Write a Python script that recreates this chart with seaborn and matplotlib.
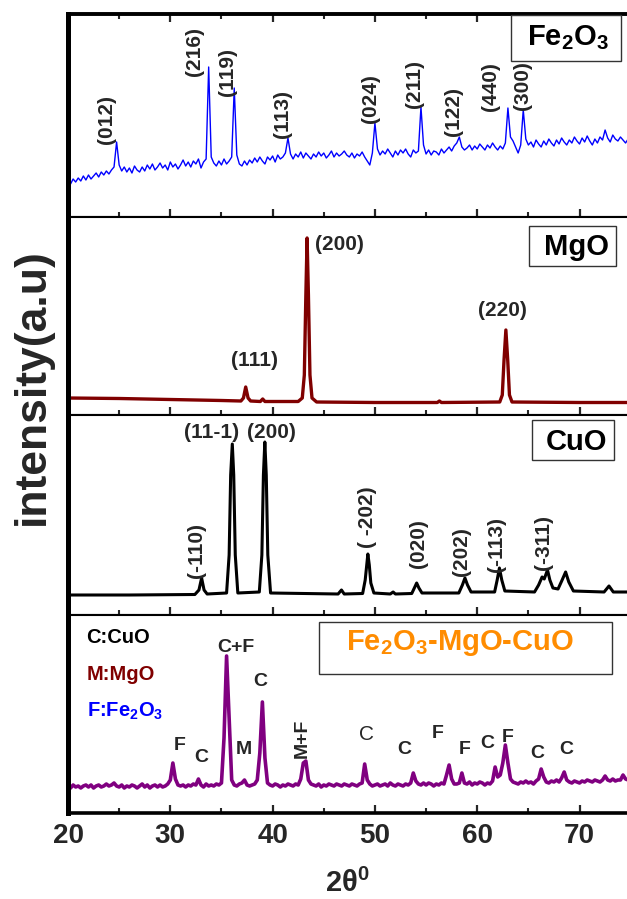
import numpy as np
import pandas as pd
import matplotlib
matplotlib.use("Agg")
import matplotlib.pyplot as plt
import seaborn as sns
from matplotlib.ticker import MultipleLocator
from matplotlib.patches import Rectangle

# ---------------- data ----------------
grid_2theta = np.round(np.arange(20.0, 74.76, 0.25), 2)

fe2o3_counts = [
    37, 33, 38, 35,  39, 36, 41, 37,  42, 38, 41, 44,  40, 45, 42, 46,
    43, 47, 50, 75,  52, 46, 50, 45,  49, 44, 51, 47,  45, 50, 46, 52,
    48, 53, 47, 50,  54, 49, 52, 47,  55, 50, 53, 48,  52, 57, 51, 55,
    50, 56, 53, 58,  49, 55, 58, 150, 60, 54, 51, 56,  52, 58, 53, 56,
    60, 129, 62, 53, 51, 56, 52, 57,  54, 59, 55, 60,  56, 53, 60, 57,
    61, 55, 62, 58,  60, 64, 79, 63,  58, 63, 60, 65,  59, 64, 61, 58,
    63, 60, 65, 61,  64, 59, 62, 66,  60, 64, 61, 63,  66, 62, 60, 64,
    59, 63, 61, 65,  60, 56, 52, 64,  94, 68, 62, 66,  63, 68, 64, 60,
    66, 62, 67, 64,  68, 63, 60, 67,  64, 66, 110, 72, 63, 67, 62, 66,
    65, 62, 68, 64,  67, 70, 66, 71,  74, 80, 70, 67,  69, 72, 67, 71,
    68, 73, 70, 67,  72, 69, 74, 70,  67, 71, 68, 74,  109, 80, 76, 70,
    64, 72, 107, 78, 72, 75, 70, 77,  73, 70, 76, 72,  78, 74, 71, 77,
    73, 79, 75, 72,  77, 74, 80, 76,  73, 79, 75, 81,  76, 72, 78, 74,
    80, 77, 87, 79,  75, 82, 78, 76,  80, 77, 74, 78,
]

mgo_2theta = [20, 25, 30, 35, 36.9, 37.15, 37.37, 37.6, 37.85, 38.8, 39.03, 39.25,
              42.5, 42.9, 43.1, 43.25, 43.37, 43.5, 43.65, 43.85, 44.3, 50, 56.1,
              56.3, 56.5, 62.2, 62.45, 62.62, 62.8, 62.98, 63.15, 63.4, 70, 74.8]
mgo_counts = [17, 16.5, 15.5, 14.5, 14, 17, 28, 17, 14, 13.5, 16, 13.5,
              13.5, 17, 40, 120, 177, 120, 40, 17, 13, 12.5, 12.5,
              14, 12.5, 13, 20, 55, 85, 55, 20, 13, 12.5, 12.5]

cuo_2theta = [20, 26, 32.4, 32.8, 33.06, 33.3, 33.6, 35.5, 35.75, 35.9, 36.06, 36.2,
              36.35, 36.6, 38.7, 38.95, 39.1, 39.24, 39.38, 39.53, 39.8, 46.4, 46.73,
              47.0, 48.8, 49.05, 49.2, 49.31, 49.45, 49.6, 49.9, 51.5, 51.78, 52.0,
              53.6, 53.9, 54.08, 54.3, 54.6, 58.2, 58.55, 58.8, 59.05, 59.4, 61.7,
              61.95, 62.17, 62.4, 62.7, 65.6, 66.0, 66.34, 66.55, 66.87, 67.1, 67.4,
              67.9, 68.3, 68.64, 68.95, 69.4, 72.4, 72.88, 73.3, 74.8]
cuo_counts = [20, 20, 20.5, 25, 37, 25, 21, 22, 60, 140, 171, 140,
              60, 22, 23, 60, 140, 173, 140, 60, 22, 21, 25,
              21, 21.5, 35, 50, 61, 50, 32, 22, 21, 23, 21,
              21.5, 28, 32, 27, 22, 22, 30, 37, 30, 23, 23,
              35, 47, 35, 24, 23, 30, 38, 36, 45, 35, 27,
              26, 35, 43, 33, 24, 23, 29, 23, 23]

mix_counts = [
    27, 25, 28, 26,  27, 25, 27, 28,  26, 28, 25, 27,  28, 26, 27, 29,
    27, 28, 30, 27,  26, 28, 25, 27,  26, 28, 27, 25,  27, 29, 26, 28,
    25, 27, 28, 26,  28, 26, 27, 29,  33, 50, 34, 28,  27, 28, 26, 28,
    27, 29, 28, 34,  28, 26, 29, 27,  28, 27, 29, 28,  30, 75, 157, 95,
    33, 28, 27, 29,  30, 33, 28, 27,  28, 29, 33, 60,  111, 55, 30, 28,
    27, 29, 28, 26,  28, 27, 29, 28,  27, 29, 28, 34,  50, 52, 33, 29,
    28, 27, 29, 26,  28, 27, 29, 28,  27, 29, 28, 27,  29, 28, 27, 29,
    28, 27, 29, 30,  49, 33, 29, 27,  28, 29, 27, 28,  29, 27, 30, 28,
    27, 29, 28, 27,  29, 28, 30, 40,  32, 29, 28, 30,  28, 30, 29, 27,
    29, 28, 30, 29,  38, 48, 34, 29,  29, 30, 40, 30,  29, 31, 28, 30,
    29, 31, 30, 28,  30, 29, 32, 46,  36, 38, 50, 68,  50, 34, 31, 30,
    29, 31, 30, 32,  30, 31, 29, 32,  34, 44, 36, 31,  30, 32, 31, 33,
    31, 35, 41, 33,  31, 30, 32, 31,  30, 32, 31, 33,  32, 31, 33, 32,
    31, 33, 37, 33,  32, 34, 32, 33,  33, 38, 34, 33,
]

# peak labels (hkl) and their anchor positions (2theta, counts)
fe2o3_hkl = ["(012)", "(216)", "(119)", "(113)", "(024)", "(211)", "(122)", "(440)", "(300)"]
fe2o3_hkl_x = [23.76, 32.4, 35.6, 41.0, 49.56, 53.9, 57.7, 61.3, 64.4]
fe2o3_hkl_y = [98, 166, 145, 103, 118, 133, 105, 130, 131]

mgo_hkl = ["(111)", "(200)", "(220)"]
mgo_hkl_x = [38.25, 46.55, 62.5]
mgo_hkl_y = [55, 170, 105]

cuo_hkl_h = ["(11-1)", "(200)"]
cuo_hkl_h_x = [34.0, 39.84]
cuo_hkl_h_y = [183, 182]
cuo_hkl_v = ["(-110)", "( -202)", "(020)", "(202)", "(-113)", "(-311)"]
cuo_hkl_v_x = [32.6, 49.3, 54.3, 58.5, 61.9, 66.5]
cuo_hkl_v_y = [65, 98, 71, 63, 71, 73]

mix_marks = ["F", "C", "C+F", "M", "C", "C", "F", "F", "C", "F", "C", "C"]
mix_marks_x = [30.9, 33.06, 36.4, 37.2, 38.8, 52.9, 56.1, 58.8, 61.0, 63.0, 65.9, 68.7]
mix_marks_y = [68, 56, 166, 63, 131, 63, 79, 64, 70, 75, 59, 64]

xticks_major = [20, 30, 40, 50, 60, 70]

# ---------------- styling ----------------
sns.set_theme(style="white")
plt.rcParams["font.family"] = ["Liberation Sans", "DejaVu Sans"]
plt.rcParams["font.weight"] = "bold"
plt.rcParams["mathtext.fontset"] = "custom"
plt.rcParams["mathtext.rm"] = "Liberation Sans"
plt.rcParams["mathtext.bf"] = "Liberation Sans:bold"
plt.rcParams["mathtext.it"] = "Liberation Sans:bold:italic"
plt.rcParams["mathtext.default"] = "bf"

W, H = 627, 899
fig = plt.figure(figsize=(W / 100, H / 100), dpi=100)
gs = fig.add_gridspec(4, 1, left=68 / W, right=1.0, top=1 - 14 / H, bottom=1 - 813 / H,
                      hspace=0, height_ratios=[203, 198, 200, 198])
axes = [fig.add_subplot(gs[i]) for i in range(4)]
ylims = [203, 198, 200, 198]

n = min(len(grid_2theta), len(fe2o3_counts))
fe_df = pd.DataFrame({"two_theta": grid_2theta[:n], "counts": fe2o3_counts[:n]})
m = min(len(grid_2theta), len(mix_counts))
mix_df = pd.DataFrame({"two_theta": grid_2theta[:m], "counts": mix_counts[:m]})
mgo_df = pd.DataFrame({"two_theta": mgo_2theta, "counts": mgo_counts})
cuo_df = pd.DataFrame({"two_theta": cuo_2theta, "counts": cuo_counts})

sns.lineplot(data=fe_df, x="two_theta", y="counts", ax=axes[0], color="#0000FF",
             linewidth=1.0, estimator=None, sort=False)
sns.lineplot(data=mgo_df, x="two_theta", y="counts", ax=axes[1], color="#800000",
             linewidth=2.4, estimator=None, sort=False)
sns.lineplot(data=cuo_df, x="two_theta", y="counts", ax=axes[2], color="black",
             linewidth=2.2, estimator=None, sort=False)
sns.lineplot(data=mix_df, x="two_theta", y="counts", ax=axes[3], color="#800080",
             linewidth=2.6, estimator=None, sort=False)

for i, ax in enumerate(axes):
    ax.set_xlim(20, 74.64)
    ax.set_ylim(0, ylims[i])
    ax.set_xlabel("")
    ax.set_ylabel("")
    ax.set_yticks([])
    ax.xaxis.set_major_locator(MultipleLocator(10))
    ax.xaxis.set_minor_locator(MultipleLocator(5))
    ax.tick_params(axis="x", which="major", direction="in", length=6, width=1.6,
                   top=(i == 0), bottom=True, labelbottom=(i == 3), labelsize=20, pad=7)
    ax.tick_params(axis="x", which="minor", direction="in", length=3.5, width=1.5,
                   top=(i == 0), bottom=True)
    ax.spines["right"].set_visible(False)
    ax.spines["left"].set_linewidth(3.6)
    ax.spines["top"].set_linewidth(1.5)
    ax.spines["bottom"].set_linewidth(1.5)
    for s in ax.spines.values():
        s.set_color("black")
axes[0].spines["top"].set_linewidth(2.8)
axes[3].spines["bottom"].set_linewidth(2.6)
axes[3].set_xticks(xticks_major)
for lab in axes[3].get_xticklabels():
    lab.set_fontweight("bold")

# title boxes (axes fraction)
def title_box(ax, x0, y0, w, h, tx, ty, text, color="black", size=21):
    ax.add_patch(Rectangle((x0, y0), w, h, transform=ax.transAxes, facecolor="white",
                           edgecolor="#333333", linewidth=1.0, zorder=5))
    ax.text(tx, ty, text, transform=ax.transAxes, ha="center", va="baseline",
            fontsize=size, fontweight="bold", color=color, zorder=6)

title_box(axes[0], 0.7925, 0.7685, 0.1968, 0.2266, 0.8936, 0.847, r"Fe$_{2}$O$_{3}$")
title_box(axes[1], 0.8247, 0.7525, 0.1556, 0.202, 0.909, 0.808, "MgO")
title_box(axes[2], 0.830, 0.775, 0.1467, 0.2, 0.909, 0.825, "CuO")
title_box(axes[3], 0.449, 0.702, 0.524, 0.263, 0.701, 0.823, r"Fe$_{2}$O$_{3}$-MgO-CuO",
          color="#FF8C00")

# hkl labels
for t, x, y in zip(fe2o3_hkl, fe2o3_hkl_x, fe2o3_hkl_y):
    axes[0].text(x, y, t, rotation=90, ha="center", va="center", fontsize=15, fontweight="bold")
for t, x, y in zip(mgo_hkl, mgo_hkl_x, mgo_hkl_y):
    axes[1].text(x, y, t, ha="center", va="center", fontsize=15, fontweight="bold")
for t, x, y in zip(cuo_hkl_h, cuo_hkl_h_x, cuo_hkl_h_y):
    axes[2].text(x, y, t, ha="center", va="center", fontsize=15, fontweight="bold")
for t, x, y in zip(cuo_hkl_v, cuo_hkl_v_x, cuo_hkl_v_y):
    axes[2].text(x, y, t, rotation=90, ha="center", va="center", fontsize=15, fontweight="bold")

# phase markers in mixture panel
for t, x, y in zip(mix_marks, mix_marks_x, mix_marks_y):
    axes[3].text(x, y, t, ha="center", va="center", fontsize=14, fontweight="bold")
axes[3].text(42.85, 75, "M+F", rotation=90, ha="center", va="center", fontsize=14,
             fontweight="bold")
axes[3].text(49.2, 78, "C", ha="center", va="center", fontsize=15, fontweight="normal")

axes[3].text(21.82, 170, "C:CuO", ha="left", va="baseline", fontsize=14.5,
             fontweight="bold", color="black")
axes[3].text(21.82, 133, "M:MgO", ha="left", va="baseline", fontsize=14.5,
             fontweight="bold", color="#800000")
axes[3].text(21.82, 96, r"F:Fe$_{2}$O$_{3}$", ha="left", va="baseline", fontsize=14.5,
             fontweight="bold", color="#0000FF")

# axis labels
fig.text(32 / W, 1 - 387 / H, "intensity(a.u)", rotation=90, ha="center", va="center",
         fontsize=32, fontweight="bold")
fig.text(347 / W, 1 - 892 / H, r"2$\mathrm{\theta}^{\mathrm{0}}$", ha="center",
         va="baseline", fontsize=21, fontweight="bold")

fig.savefig("out.png", dpi=100)
